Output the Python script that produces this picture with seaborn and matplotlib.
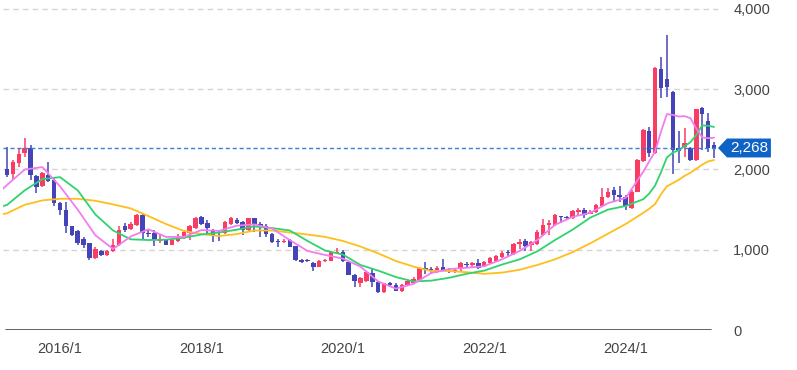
import matplotlib
matplotlib.use("Agg")
import matplotlib.pyplot as plt
from matplotlib.patches import Polygon
import seaborn as sns
import numpy as np

# monthly candles, 2015/4 .. 2025/4
opens = [2000, 1945, 2085, 2210, 2265, 1920, 1795, 1930, 1870, 1580,
         1495, 1290, 1230, 1140, 1080, 895, 985, 935, 990, 1060,
         1290, 1255, 1310, 1430, 1205, 1205, 1105, 1130, 1065, 1110,
         1160, 1210, 1270, 1410, 1330, 1250, 1185, 1205, 1320, 1365,
         1340, 1240, 1390, 1320, 1300, 1200, 1105, 1095, 1120, 1045,
         870, 870, 840, 790, 860, 860, 960, 970, 850, 690,
         590, 615, 710, 600, 470, 585, 560, 490, 555, 585,
         625, 770, 760, 745, 780, 760, 730, 755, 820, 805,
         840, 790, 830, 865, 905, 970, 950, 1070, 1110, 1060,
         1070, 1185, 1310, 1310, 1420, 1410, 1395, 1475, 1500, 1450,
         1475, 1540, 1660, 1750, 1685, 1660, 1520, 1725, 2100, 2480,
         2200, 3250, 3125, 2970, 2265, 2285, 2270, 2120, 2770, 2600,
         2300]
highs = [2280, 2120, 2270, 2390, 2300, 1935, 1975, 2095, 1895, 1600,
         1600, 1300, 1240, 1160, 1090, 1030, 1000, 1000, 1130, 1300,
         1330, 1350, 1440, 1460, 1250, 1240, 1180, 1140, 1140, 1200,
         1250, 1310, 1410, 1420, 1370, 1260, 1230, 1360, 1410, 1400,
         1360, 1400, 1400, 1340, 1320, 1210, 1140, 1130, 1130, 1050,
         880, 880, 850, 870, 880, 990, 1017, 1000, 860, 700,
         660, 740, 760, 610, 590, 600, 580, 570, 620, 660,
         790, 850, 790, 800, 880, 770, 770, 850, 845, 850,
         880, 860, 905, 935, 990, 1000, 1085, 1140, 1140, 1110,
         1240, 1380, 1370, 1445, 1425, 1420, 1495, 1515, 1525, 1490,
         1570, 1765, 1775, 1785, 1795, 1680, 1745, 2130, 2500, 2535,
         3275, 3405, 3675, 2980, 2480, 2515, 2280, 2760, 2780, 2700,
         2340]
lows = [1910, 1870, 2030, 2155, 1870, 1710, 1780, 1845, 1545, 1435,
        1205, 1170, 1060, 1020, 870, 880, 925, 925, 976, 1050,
        1225, 1240, 1300, 1140, 1160, 1045, 1090, 1055, 1060, 1095,
        1140, 1120, 1260, 1310, 1205, 1100, 1115, 1195, 1310, 1320,
        1180, 1230, 1225, 1160, 1160, 1090, 1040, 1080, 1030, 860,
        840, 845, 740, 780, 850, 855, 950, 850, 680, 540,
        530, 600, 540, 460, 460, 540, 480, 470, 545, 575,
        615, 700, 700, 710, 730, 705, 715, 740, 770, 790,
        755, 780, 820, 855, 895, 905, 940, 1015, 985, 985,
        1060, 1170, 1185, 1300, 1335, 1375, 1385, 1420, 1390, 1440,
        1460, 1530, 1640, 1600, 1600, 1495, 1510, 1715, 2090, 2160,
        2195, 2895, 2905, 1950, 2075, 2160, 2110, 2110, 2245, 2220,
        2145]
closes = [1930, 2090, 2190, 2265, 1935, 1785, 1955, 1860, 1585, 1495,
          1290, 1180, 1090, 1060, 895, 1015, 935, 990, 1060, 1250,
          1250, 1320, 1430, 1205, 1195, 1125, 1140, 1065, 1125, 1170,
          1225, 1295, 1400, 1320, 1265, 1175, 1170, 1350, 1390, 1330,
          1250, 1390, 1320, 1290, 1196, 1100, 1095, 1105, 1040, 870,
          850, 855, 790, 865, 872, 976, 976, 860, 690, 615,
          645, 725, 600, 470, 580, 560, 490, 555, 605, 640,
          770, 745, 745, 770, 750, 745, 750, 840, 805, 835,
          770, 850, 895, 920, 965, 955, 1070, 1100, 1050, 1100,
          1225, 1310, 1335, 1430, 1405, 1390, 1485, 1495, 1435, 1475,
          1560, 1660, 1725, 1685, 1660, 1540, 1725, 2118, 2490, 2200,
          3270, 3020, 3030, 2245, 2225, 2325, 2120, 2755, 2690, 2265,
          2268]

# moving averages
ma_idx = [-1, 0, 3, 6, 9, 12, 15, 18, 21, 24, 27, 30, 33, 36, 39, 42, 45, 48,
          51, 54, 57, 60, 63, 66, 69, 72, 75, 78, 81, 84, 87, 90, 93, 96, 99,
          102, 105, 108, 109, 110, 111, 112, 113, 114, 115, 116, 117, 118, 119, 120]
ma_short = [1740, 1807, 2000, 2030, 1790, 1500, 1180, 1010, 1165, 1255, 1160,
            1160, 1245, 1235, 1300, 1315, 1265, 1120, 985, 935, 890, 790, 605,
            515, 575, 710, 758, 775, 795, 880, 985, 1120, 1310, 1410, 1460,
            1580, 1645, 1973, 2100, 2222, 2471, 2690, 2680, 2660, 2665, 2640,
            2510, 2400, 2390, 2396]
ma_mid = [1540, 1558, 1740, 1880, 1905, 1740, 1440, 1240, 1130, 1121, 1125,
          1150, 1190, 1215, 1250, 1290, 1270, 1240, 1110, 990, 940, 810, 740,
          660, 605, 615, 650, 700, 740, 815, 880, 980, 1120, 1250, 1400,
          1500, 1545, 1630, 1700, 1800, 1965, 2150, 2210, 2240, 2290, 2340,
          2430, 2550, 2545, 2530]
ma_long = [1440, 1454, 1560, 1615, 1635, 1635, 1610, 1565, 1515, 1420, 1320,
           1235, 1195, 1171, 1195, 1240, 1240, 1215, 1190, 1160, 1110, 1040,
           955, 860, 790, 735, 735, 720, 700, 715, 750, 810, 880, 970, 1080,
           1200, 1320, 1460, 1510, 1570, 1690, 1790, 1830, 1870, 1920, 1960,
           2010, 2060, 2100, 2118]

last_price = 2268
year_ticks = [9, 33, 57, 81, 105]
year_labels = ["2016/1", "2018/1", "2020/1", "2022/1", "2024/1"]
y_ticks = [0, 1000, 2000, 3000, 4000]

UP = "#fa3c64"
DOWN = "#4444b8"

sns.set_theme(style="white")
plt.rcParams["font.family"] = ["Liberation Sans", "DejaVu Sans"]

fig = plt.figure(figsize=(7.97, 3.70), dpi=100)
ax = fig.add_axes([3 / 797, 40 / 370, 715 / 797, 330 / 370])

# grid
for v in y_ticks[1:]:
    ax.axhline(v, color="#d4d4d4", lw=1, ls=(0, (4, 3)), zorder=0)
ax.axhline(0, xmin=0.004, xmax=0.99, color="#555555", lw=1.3, zorder=1)

# candles
o = np.array(opens)
c = np.array(closes)
x = np.arange(len(o))
col = np.where(c >= o, UP, DOWN)
ax.vlines(x, lows, highs, colors=col, lw=1.1, zorder=2)
body = np.maximum(np.abs(c - o), 15)
ax.bar(x, body, bottom=np.minimum(o, c), width=0.76, color=col,
       linewidth=0, zorder=3)

# moving averages
sns.lineplot(x=ma_idx, y=ma_long, ax=ax, color="#ffbf1a", lw=1.3, zorder=4)
sns.lineplot(x=ma_idx, y=ma_mid, ax=ax, color="#2ed36e", lw=1.3, zorder=4)
sns.lineplot(x=ma_idx, y=ma_short, ax=ax, color="#f27cf0", lw=1.3, zorder=5)

# current price
ax.axhline(last_price, color="#3b7fd8", lw=1, ls=(0, (3, 2)), zorder=6)
tr = ax.get_yaxis_transform()
h = 118
tag = Polygon([[1.0, last_price], [1.0126, last_price + h], [1.074, last_price + h],
               [1.074, last_price - h], [1.0126, last_price - h]],
              closed=True, transform=tr, clip_on=False, fc="#0f63c6", ec="none", zorder=7)
ax.add_patch(tag)
ax.text(1.0435, last_price, f"{last_price:,}", transform=tr, ha="center", va="center",
        color="white", fontsize=11, zorder=8)

ax.set_xlim(-0.68, 120.68)
ax.set_ylim(0, 4112)
ax.set_xticks(year_ticks)
ax.set_xticklabels(year_labels)
ax.set_yticks(y_ticks)
ax.set_yticklabels([f"{v:,}" for v in y_ticks])
ax.yaxis.tick_right()
ax.tick_params(axis="y", length=0, pad=11, labelsize=10.5, labelcolor="#444444")
ax.tick_params(axis="x", length=0, pad=8.5, labelsize=10.5, labelcolor="#444444")
for lab in ax.get_yticklabels():
    lab.set_horizontalalignment("left")
for s in ax.spines.values():
    s.set_visible(False)
ax.set_xlabel("")
ax.set_ylabel("")

fig.savefig("out.png", dpi=100)
